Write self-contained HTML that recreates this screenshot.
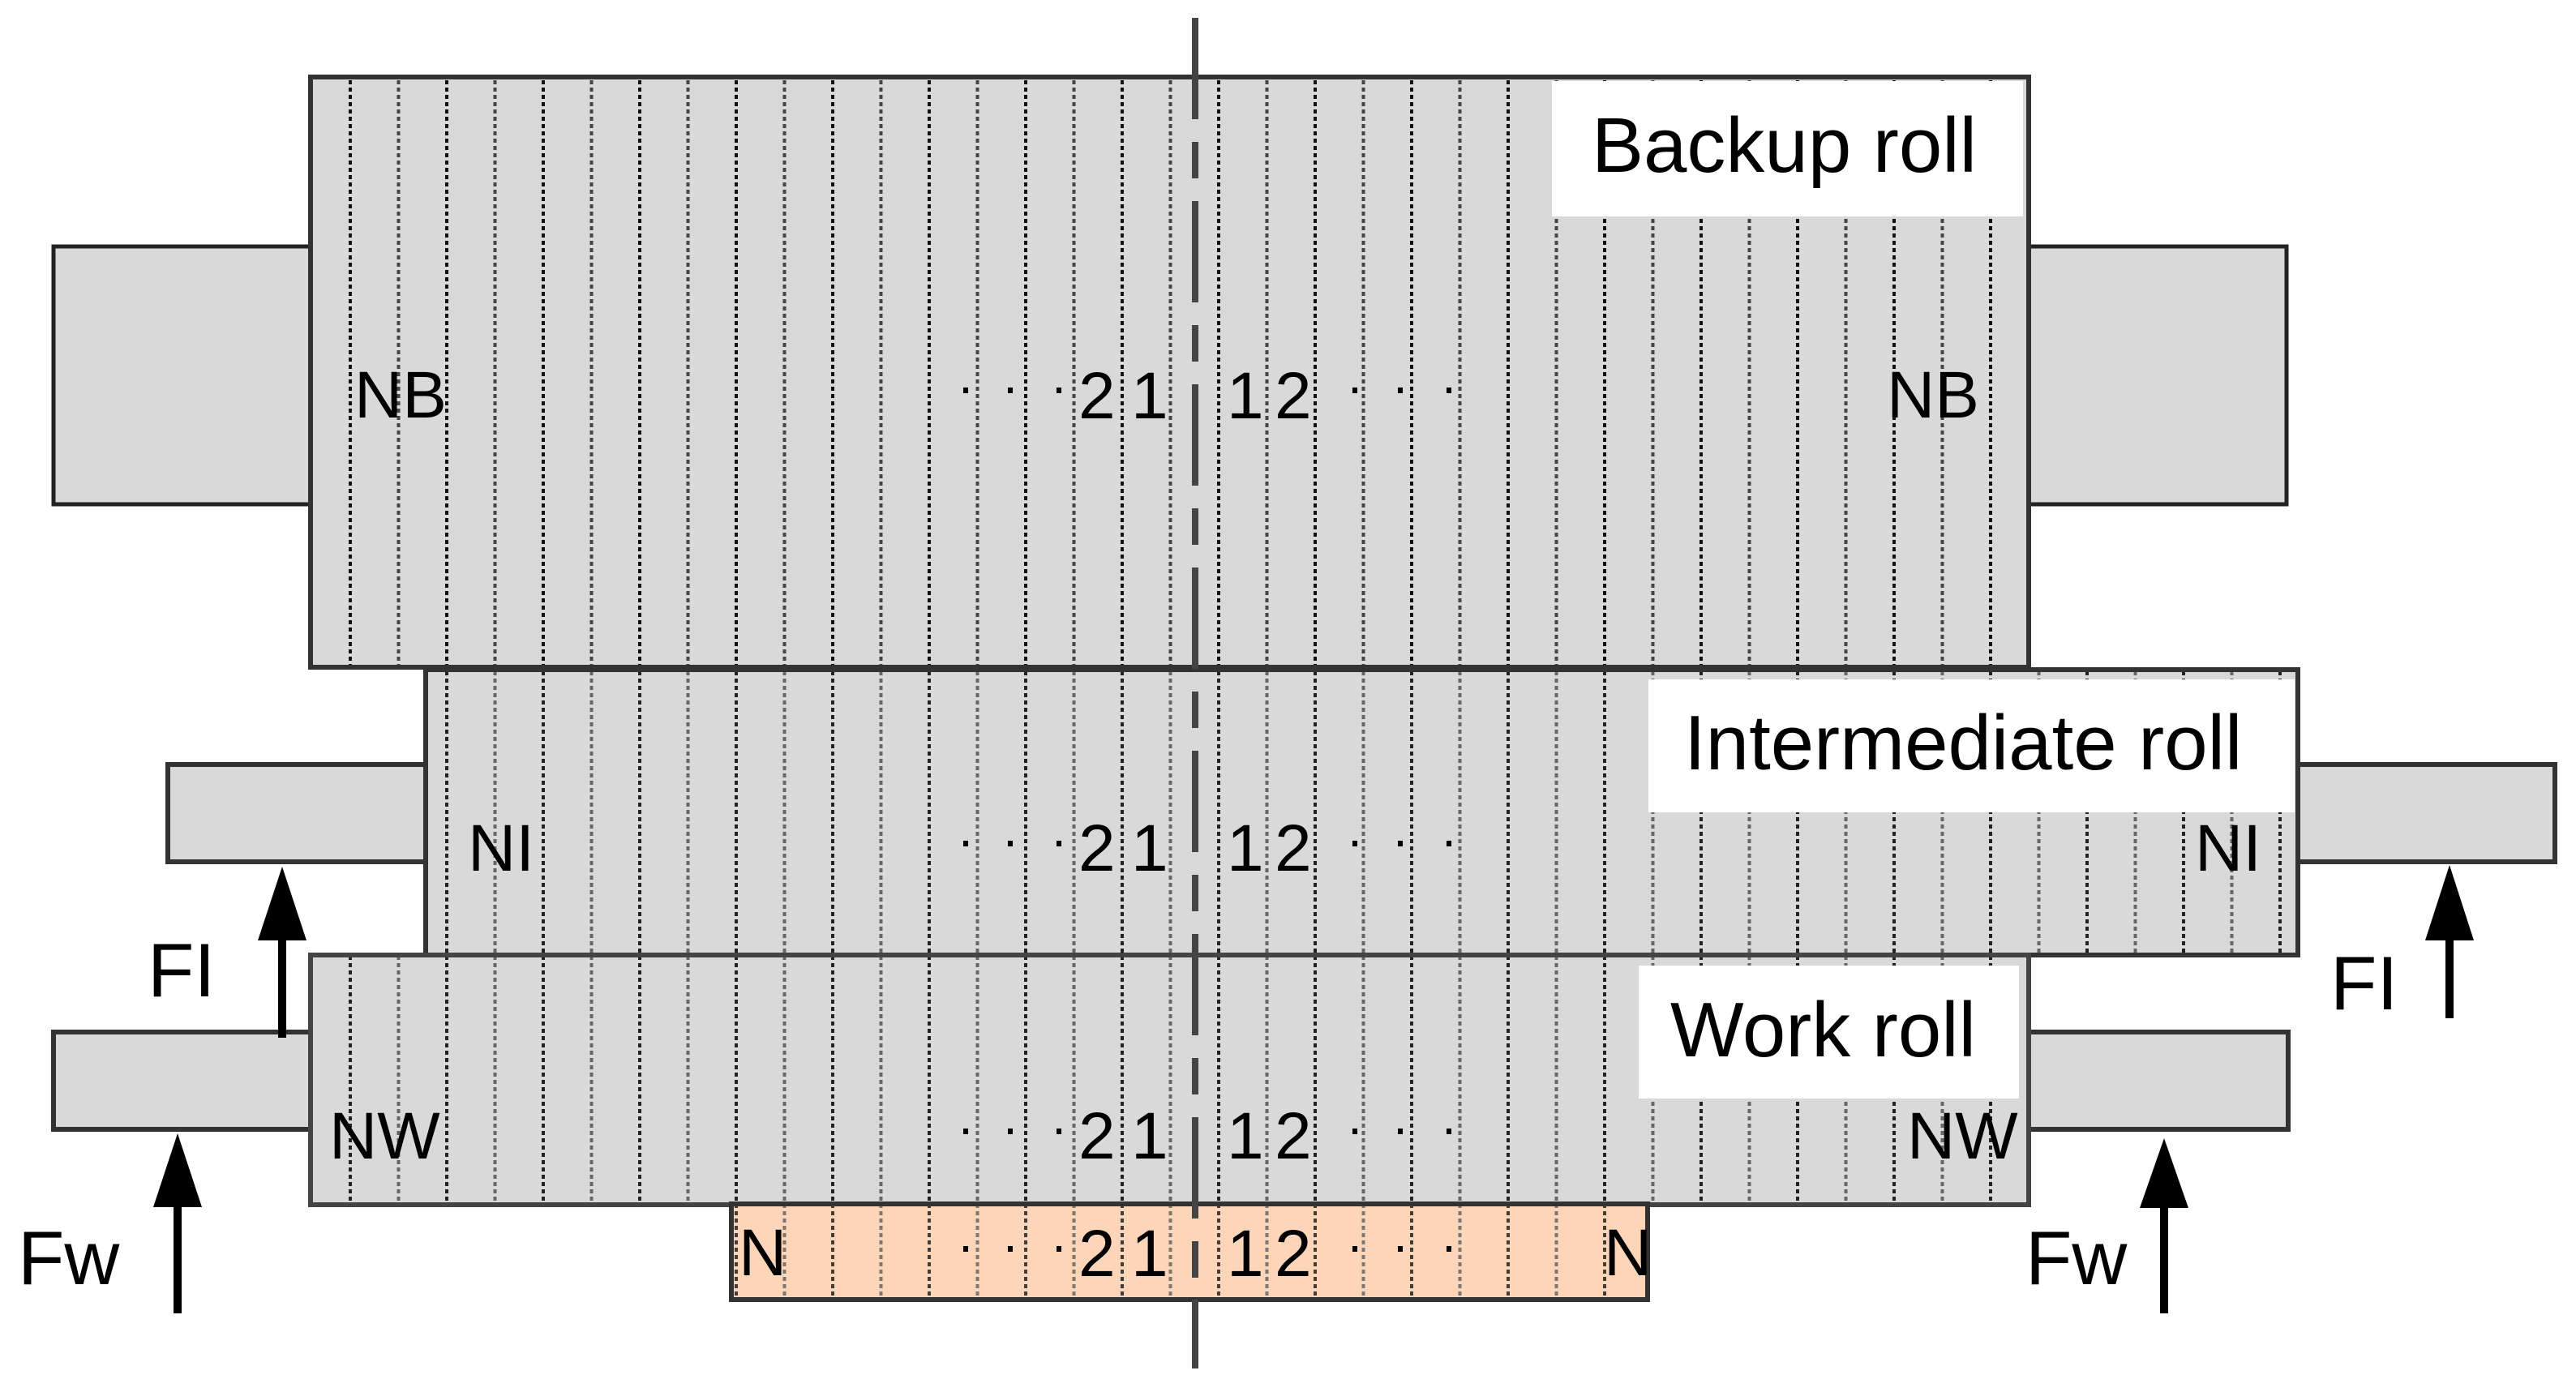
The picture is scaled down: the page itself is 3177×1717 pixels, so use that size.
<!DOCTYPE html>
<html><head><meta charset="utf-8"><style>
html,body{margin:0;padding:0;background:#fff;}
svg{display:block;}
text{font-family:"Liberation Sans",Arial,sans-serif;fill:#000;}
</style></head><body>
<svg width="3177" height="1717" viewBox="0 0 3177 1717" xmlns="http://www.w3.org/2000/svg">
<defs>
<pattern id="vl" patternUnits="userSpaceOnUse" x="1441.5" y="0" width="119" height="9">
<rect x="0" y="0" width="4" height="5" fill="#444"/>
<rect x="59.5" y="0" width="4" height="5" fill="#111"/>
</pattern>
<pattern id="vl2" patternUnits="userSpaceOnUse" x="1441.5" y="0" width="119" height="9">
<rect x="0" y="0" width="4" height="5" fill="#666"/>
<rect x="59.5" y="0" width="4" height="5" fill="#222"/>
</pattern>
</defs>

<rect x="66" y="304" width="317" height="318" fill="#d9d9d9" stroke="#222" stroke-width="5"/>
<rect x="2502" y="304" width="318" height="318" fill="#d9d9d9" stroke="#222" stroke-width="5"/>
<rect x="207" y="943" width="318" height="120" fill="#d9d9d9" stroke="#333" stroke-width="6"/>
<rect x="2834" y="943" width="317" height="120" fill="#d9d9d9" stroke="#333" stroke-width="6"/>
<rect x="66" y="1273" width="317" height="120" fill="#d9d9d9" stroke="#333" stroke-width="6"/>
<rect x="2502" y="1273" width="320" height="120" fill="#d9d9d9" stroke="#333" stroke-width="6"/>

<rect x="383" y="95" width="2119" height="728" fill="#d9d9d9"/>
<rect x="385" y="98" width="2115" height="723" fill="url(#vl)"/>
<rect x="1914" y="100" width="581" height="167" fill="#fff"/>
<rect x="383" y="95" width="2119" height="728" fill="none" stroke="#333" stroke-width="6"/>

<rect x="525" y="826" width="2309" height="352" fill="#d9d9d9"/>
<rect x="527" y="829" width="2305" height="347" fill="url(#vl2)"/>
<rect x="2033" y="838" width="797" height="164" fill="#fff"/>
<rect x="525" y="826" width="2309" height="352" fill="none" stroke="#333" stroke-width="6"/>

<rect x="383" y="1178" width="2119" height="308" fill="#d9d9d9"/>
<rect x="385" y="1181" width="2115" height="303" fill="url(#vl2)"/>
<rect x="2021" y="1191" width="469" height="164" fill="#fff"/>
<rect x="383" y="1178" width="2119" height="308" fill="none" stroke="#444" stroke-width="6"/>

<rect x="902" y="1485" width="1130" height="118" fill="#fdd5b8"/>
<rect x="904" y="1488" width="1126" height="113" fill="url(#vl2)" opacity="0.85"/>
<rect x="902" y="1485" width="1130" height="118" fill="none" stroke="#333" stroke-width="6"/>

<line x1="1474" y1="22" x2="1474" y2="1688" stroke="#444" stroke-width="8" stroke-dasharray="125 28 45 28"/>
<line x1="1474" y1="22" x2="1474" y2="95" stroke="#444" stroke-width="8"/>
<line x1="1474" y1="1603" x2="1474" y2="1688" stroke="#444" stroke-width="8"/>

<g fill="#000">
<rect x="343" y="1150" width="10" height="130"/>
<polygon points="348,1069 318,1160 378,1160"/>
<rect x="214" y="1480" width="10" height="140"/>
<polygon points="219,1398 189,1489 249,1489"/>
<rect x="3016" y="1150" width="10" height="106"/>
<polygon points="3021,1067 2991,1160 3051,1160"/>
<rect x="2664" y="1480" width="10" height="140"/>
<polygon points="2669,1404 2639,1490 2699,1490"/>
</g>

<text x="1963" y="212" font-size="96">Backup roll</text>
<text x="2077" y="949" font-size="96">Intermediate roll</text>
<text x="2060" y="1303" font-size="96">Work roll</text>

<g font-size="82">
<text x="437" y="515">NB</text>
<text x="2327" y="515">NB</text>
<text x="577" y="1074">NI</text>
<text x="2707" y="1074">NI</text>
<text x="406" y="1429">NW</text>
<text x="2352" y="1429">NW</text>
<text x="911" y="1573">N</text>
<text x="1978" y="1573">N</text>
</g>
<g font-size="94">
<text x="182" y="1229">FI</text>
<text x="2874" y="1245">FI</text>
<text x="22" y="1584">Fw</text>
<text x="2498" y="1584">Fw</text>
</g>

<g font-size="82">
<text x="1330" y="516">2</text><text x="1395" y="516">1</text><text x="1513" y="516">1</text><text x="1572" y="516">2</text>
<text x="1330" y="1074">2</text><text x="1395" y="1074">1</text><text x="1513" y="1074">1</text><text x="1572" y="1074">2</text>
<text x="1330" y="1429">2</text><text x="1395" y="1429">1</text><text x="1513" y="1429">1</text><text x="1572" y="1429">2</text>
<text x="1330" y="1574">2</text><text x="1395" y="1574">1</text><text x="1513" y="1574">1</text><text x="1572" y="1574">2</text>
</g>
<g fill="#000">
<rect x="1188" y="478" width="6" height="7"/><rect x="1243" y="478" width="6" height="7"/><rect x="1303" y="478" width="6" height="7"/>
<rect x="1668" y="478" width="6" height="7"/><rect x="1724" y="478" width="6" height="7"/><rect x="1784" y="478" width="6" height="7"/>
<rect x="1188" y="1037" width="6" height="7"/><rect x="1243" y="1037" width="6" height="7"/><rect x="1303" y="1037" width="6" height="7"/>
<rect x="1668" y="1037" width="6" height="7"/><rect x="1724" y="1037" width="6" height="7"/><rect x="1784" y="1037" width="6" height="7"/>
<rect x="1188" y="1392" width="6" height="7"/><rect x="1243" y="1392" width="6" height="7"/><rect x="1303" y="1392" width="6" height="7"/>
<rect x="1668" y="1392" width="6" height="7"/><rect x="1724" y="1392" width="6" height="7"/><rect x="1784" y="1392" width="6" height="7"/>
<rect x="1188" y="1537" width="6" height="7"/><rect x="1243" y="1537" width="6" height="7"/><rect x="1303" y="1537" width="6" height="7"/>
<rect x="1668" y="1537" width="6" height="7"/><rect x="1724" y="1537" width="6" height="7"/><rect x="1784" y="1537" width="6" height="7"/>
</g>
</svg>
</body></html>
